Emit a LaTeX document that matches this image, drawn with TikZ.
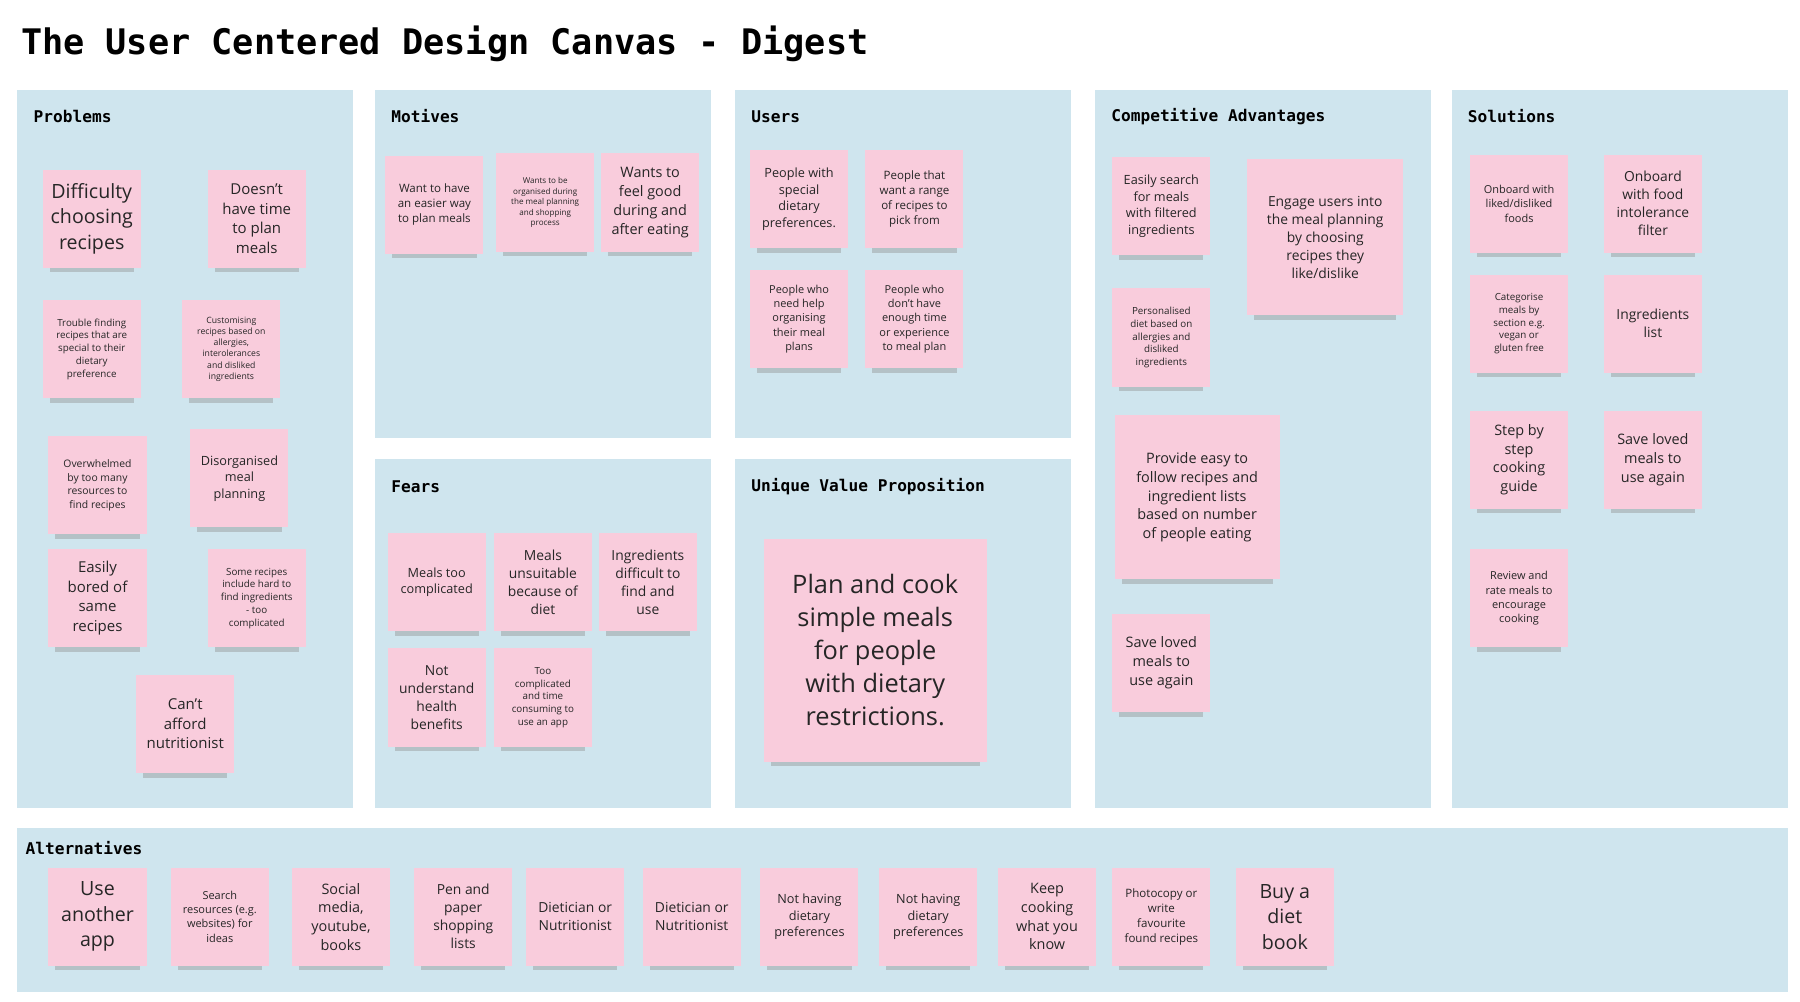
\documentclass[tikz,border=0pt]{standalone}
\usepackage{fontspec}
\setmainfont{Open Sans}
\newfontfamily\monob{DejaVu Sans Mono}
\definecolor{panel}{HTML}{CFE5EE}
\definecolor{pink}{HTML}{F9CCDC}
\newcommand\fs[1]{\fontsize{#1}{\dimexpr #1pt*13/10\relax}\selectfont}
\tikzset{
  panelbox/.style={fill=panel,draw=none},
  hdr/.style={anchor=west,font=\monob\bfseries\fontsize{14}{16}\selectfont,inner sep=0pt},
  stick/.style={fill=pink,draw=none,inner sep=0pt,align=center,text=black!85},
  shad/.style={fill=black!45,opacity=0.4}
}
\newcommand\stk[7]{%
  \fill[shad] (#2+6,#5-3) rectangle (#4-6,#5+4);
  \node[stick,minimum width={(#4-#2)*1pt},minimum height={(#5-#3)*1pt},font=\fs{#6}] (#1) at ({(#2+#4)/2},{(#3+#5)/2}) {#7};}
\begin{document}
\begin{tikzpicture}[x=1pt,y=-1pt]
\useasboundingbox (0,0) rectangle (1560,868);
\fill[white] (0,0) rectangle (1560,868);
\node[anchor=west,inner sep=0pt,font=\monob\bfseries\fontsize{30.5}{34}\selectfont] (title) at (18,38) {The User Centered Design Canvas - Digest};
% panels
\fill[panelbox] (15,78) rectangle (306,700);
\fill[panelbox] (325,78) rectangle (616,380);
\fill[panelbox] (637,78) rectangle (928,380);
\fill[panelbox] (325,398) rectangle (616,700);
\fill[panelbox] (637,398) rectangle (928,700);
\fill[panelbox] (949,78) rectangle (1240,700);
\fill[panelbox] (1258,78) rectangle (1550,700);
\fill[panelbox] (15,718) rectangle (1550,860);
\node[hdr] (hp) at (29,101) {Problems};
\node[hdr] (hm) at (339,101) {Motives};
\node[hdr] (hu) at (651,101) {Users};
\node[hdr] (hf) at (339,422) {Fears};
\node[hdr] (hv) at (651,422) {Unique Value Proposition};
\node[hdr] (hc) at (963,101) {Competitive Advantages};
\node[hdr] (hs) at (1272,101) {Solutions};
\node[hdr] (ha) at (22,735) {Alternatives};
% problems
\stk{p1}{37}{147}{122}{232}{17}{Difficulty\\choosing\\recipes}
\stk{p2}{180}{147}{265}{232}{13}{Doesn't\\have time\\to plan\\meals}
\stk{p3}{37}{260}{122}{345}{8.5}{Trouble finding\\recipes that are\\special to their\\dietary\\preference}
\stk{p4}{158}{260}{243}{345}{7.5}{Customising\\recipes based on\\allergies,\\interolerances\\and disliked\\ingredients}
\stk{p5}{42}{378}{127}{463}{9}{Overwhelmed\\by too many\\resources to\\find recipes}
\stk{p6}{165}{372}{250}{457}{11}{Disorganised\\meal\\planning}
\stk{p7}{42}{476}{127}{561}{13}{Easily\\bored of\\same\\recipes}
\stk{p8}{180}{476}{265}{561}{8.5}{Some recipes\\include hard to\\find ingredients\\- too\\complicated}
\stk{p9}{118}{585}{203}{670}{13}{Can't\\afford\\nutritionist}
% motives
\stk{m1}{334}{135}{419}{220}{10}{Want to have\\an easier way\\to plan meals}
\stk{m2}{430}{133}{515}{218}{7}{Wants to be\\organised during\\the meal planning\\and shopping\\process}
\stk{m3}{521}{133}{606}{218}{12.5}{Wants to\\feel good\\during and\\after eating}
% users
\stk{u1}{650}{130}{735}{215}{11}{People with\\special\\dietary\\preferences.}
\stk{u2}{750}{130}{835}{215}{10}{People that\\want a range\\of recipes to\\pick from}
\stk{u3}{650}{234}{735}{319}{9.5}{People who\\need help\\organising\\their meal\\plans}
\stk{u4}{750}{234}{835}{319}{9.5}{People who\\don't have\\enough time\\or experience\\to meal plan}
% fears
\stk{f1}{336}{462}{421}{547}{11}{Meals too\\complicated}
\stk{f2}{428}{462}{513}{547}{12}{Meals\\unsuitable\\because of\\diet}
\stk{f3}{519}{462}{604}{547}{12}{Ingredients\\difficult to\\find and\\use}
\stk{f4}{336}{562}{421}{647}{12}{Not\\understand\\health\\benefits}
\stk{f5}{428}{562}{513}{647}{8.5}{Too\\complicated\\and time\\consuming to\\use an app}
% uvp
\stk{v1}{662}{467}{855}{660}{22}{Plan and cook\\simple meals\\for people\\with dietary\\restrictions.}
% competitive
\stk{c1}{964}{136}{1049}{221}{11}{Easily search\\for meals\\with filtered\\ingredients}
\stk{c2}{1081}{138}{1216}{273}{12}{Engage users into\\the meal planning\\by choosing\\recipes they\\like/dislike}
\stk{c3}{964}{250}{1049}{335}{8.5}{Personalised\\diet based on\\allergies and\\disliked\\ingredients}
\stk{c4}{966}{360}{1109}{502}{12.5}{Provide easy to\\follow recipes and\\ingredient lists\\based on number\\of people eating}
\stk{c5}{964}{532}{1049}{617}{12.5}{Save loved\\meals to\\use again}
% solutions
\stk{s1}{1274}{134}{1359}{219}{9.5}{Onboard with\\liked/disliked\\foods}
\stk{s2}{1390}{134}{1475}{219}{12}{Onboard\\with food\\intolerance\\filter}
\stk{s3}{1274}{238}{1359}{323}{8.5}{Categorise\\meals by\\section e.g.\\vegan or\\gluten free}
\stk{s4}{1390}{238}{1475}{323}{12}{Ingredients\\list}
\stk{s5}{1274}{356}{1359}{441}{12.5}{Step by\\step\\cooking\\guide}
\stk{s6}{1390}{356}{1475}{441}{12.5}{Save loved\\meals to\\use again}
\stk{s7}{1274}{476}{1359}{561}{9.5}{Review and\\rate meals to\\encourage\\cooking}
% alternatives
\stk{a1}{42}{752}{127}{837}{17}{Use\\another\\app}
\stk{a2}{148}{752}{233}{837}{9.5}{Search\\resources (e.g.\\websites) for\\ideas}
\stk{a3}{253}{752}{338}{837}{12.5}{Social\\media,\\youtube,\\books}
\stk{a4}{359}{752}{444}{837}{12}{Pen and\\paper\\shopping\\lists}
\stk{a5}{456}{752}{541}{837}{12}{Dietician or\\Nutritionist}
\stk{a6}{557}{752}{642}{837}{12}{Dietician or\\Nutritionist}
\stk{a7}{659}{752}{744}{837}{11}{Not having\\dietary\\preferences}
\stk{a8}{762}{752}{847}{837}{11}{Not having\\dietary\\preferences}
\stk{a9}{865}{752}{950}{837}{12.5}{Keep\\cooking\\what you\\know}
\stk{a10}{964}{752}{1049}{837}{10}{Photocopy or\\write\\favourite\\found recipes}
\stk{a11}{1071}{752}{1156}{837}{17}{Buy a\\diet\\book}
\end{tikzpicture}
\end{document}
